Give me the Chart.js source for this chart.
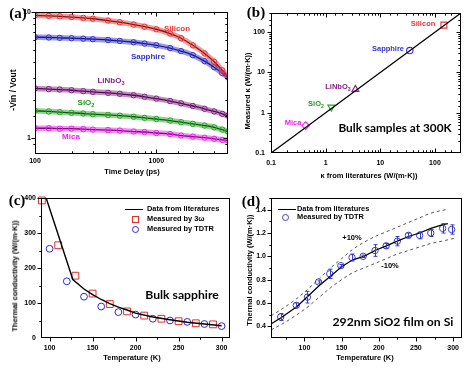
<!DOCTYPE html>
<html><head><meta charset="utf-8">
<script src="https://cdn.jsdelivr.net/npm/chart.js"></script>
<style>
html,body{margin:0;padding:0;background:#fff;}
#wrap{position:relative;width:472px;height:371px;overflow:hidden;background:#fff;font-family:"Liberation Sans",Arial,sans-serif;color:#000;}
canvas{position:absolute;}
.t{position:absolute;transform:translate(-50%,-50%);white-space:nowrap;font-weight:bold;font-size:7.5px;line-height:1;}
.r{transform:translate(-50%,-50%) rotate(-90deg);}
.pl{font-family:"Liberation Serif",serif;font-size:15px;font-weight:bold;}
.big{font-family:Lato,sans-serif;font-weight:700;font-size:11.8px;}
sub{font-size:70%;vertical-align:-2px;line-height:0;}
.leg{position:absolute;white-space:nowrap;font-weight:bold;font-size:7.4px;transform:translateY(-50%);line-height:1;}
.sw{position:absolute;box-sizing:border-box;}
</style></head><body><div id="wrap">
<canvas id="ca" width="236" height="185" style="left:0;top:0"></canvas>
<canvas id="cb" width="236" height="185" style="left:236px;top:0"></canvas>
<canvas id="cc" width="236" height="186" style="left:0;top:185px"></canvas>
<canvas id="cd" width="236" height="186" style="left:236px;top:185px"></canvas>

<div class="t pl" style="left:18px;top:13px">(a)</div>
<div class="t pl" style="left:256px;top:12px">(b)</div>
<div class="t pl" style="left:17px;top:200px">(c)</div>
<div class="t pl" style="left:251px;top:201px">(d)</div>

<!-- panel a -->
<div class="t" style="left:132px;top:172px">Time Delay (ps)</div>
<div class="t r" style="left:13px;top:90px;font-size:8.5px">-Vin / Vout</div>
<div class="t" style="left:177px;top:29px;color:#ee3333;font-size:8px">Silicon</div>
<div class="t" style="left:148px;top:57px;color:#3333cc;font-size:8px">Sapphire</div>
<div class="t" style="left:111px;top:81px;color:#882288;font-size:8px">LiNbO<sub>3</sub></div>
<div class="t" style="left:86px;top:103px;color:#229922;font-size:8px">SiO<sub>2</sub></div>
<div class="t" style="left:71px;top:137px;color:#ee22ee;font-size:8px">Mica</div>

<!-- panel b -->
<div class="t" style="left:369px;top:176px">κ from literatures (W/(m·K))</div>
<div class="t r" style="left:248px;top:91px">Measured κ (W/(m·K))</div>
<div class="t" style="left:423px;top:24px;color:#ee3333">Silicon</div>
<div class="t" style="left:388px;top:49px;color:#3333cc">Sapphire</div>
<div class="t" style="left:338px;top:87px;color:#882288">LiNbO<sub>3</sub></div>
<div class="t" style="left:316px;top:104px;color:#229922">SiO<sub>2</sub></div>
<div class="t" style="left:293px;top:123px;color:#ee22ee">Mica</div>
<div class="t big" style="left:395px;top:128px">Bulk samples at 300K</div>

<!-- panel c -->
<div class="t" style="left:132px;top:358px">Temperature (K)</div>
<div class="t r" style="left:15px;top:276px">Thermal conductivity (W/(m·K))</div>
<div class="sw" style="left:125px;top:208.5px;width:18px;height:1.5px;background:#000"></div>
<div class="leg" style="left:147px;top:209px">Data from literatures</div>
<div class="sw" style="left:131.5px;top:215.5px;width:7px;height:7px;border:1px solid #e0302a"></div>
<div class="leg" style="left:147px;top:219px">Measured by 3ω</div>
<div class="sw" style="left:131.5px;top:225.5px;width:7px;height:7px;border:1px solid #2a2ad0;border-radius:50%"></div>
<div class="leg" style="left:147px;top:229px">Measured by TDTR</div>
<div class="t big" style="left:182px;top:295px;font-size:12.2px">Bulk sapphire</div>

<!-- panel d -->
<div class="t" style="left:365px;top:358px">Temperature (K)</div>
<div class="t r" style="left:250px;top:270px">Thermal conductivity (W/(m·K))</div>
<div class="sw" style="left:278px;top:208.5px;width:18px;height:1.2px;background:#000"></div>
<div class="leg" style="left:297px;top:209px">Data from literatures</div>
<div class="sw" style="left:281.5px;top:213.5px;width:7px;height:7px;border:1px solid #3b3bd0;border-radius:50%"></div>
<div class="leg" style="left:297px;top:217px">Measured by TDTR</div>
<div class="t" style="left:352px;top:238px">+10%</div>
<div class="t" style="left:390px;top:266px">-10%</div>
<div class="t big" style="left:393px;top:322px;font-size:12.2px">292nm SiO2 film on Si</div>
</div>
<script>
// ---------- Panel (a): -Vin/Vout vs time delay ----------
const aTimes = [100,130,160,200,250,300,400,500,650,800,1000,1300,1600,2000,2500,3000,3500,3900];
const aSilicon  = [9.40,9.32,9.24,9.12,8.98,8.84,8.55,8.30,7.95,7.65,7.30,6.75,6.20,5.45,4.70,4.04,3.45,3.08];
const aSapphire = [6.32,6.28,6.24,6.20,6.15,6.09,6.00,5.90,5.76,5.62,5.45,5.18,4.90,4.55,4.08,3.65,3.28,3.03];
const aLiNbO3   = [2.48,2.45,2.43,2.40,2.36,2.33,2.29,2.25,2.19,2.13,2.06,1.97,1.89,1.80,1.71,1.63,1.56,1.51];
const aSiO2     = [1.65,1.63,1.61,1.59,1.57,1.55,1.53,1.51,1.48,1.45,1.42,1.38,1.34,1.30,1.26,1.22,1.17,1.13];
const aMica     = [1.20,1.20,1.19,1.19,1.18,1.17,1.16,1.15,1.13,1.12,1.10,1.08,1.05,1.03,1.01,0.99,0.97,0.96];
const aXTicks = [100, 1000];
const aYTicks = [1, 10];

// ---------- Panel (b): measured vs literature ----------
const bNames = ['Silicon','Sapphire','LiNbO3','SiO2','Mica'];
const bLiterature = [146, 34.7, 3.5, 1.27, 0.43];
const bMeasured   = [150, 35.0, 3.8, 1.38, 0.48];
const bDiag = [0.1, 300];
const bTicks = [0.1, 1, 10, 100];

// ---------- Panel (c): bulk sapphire ----------
const cLitT = [96,110,127,140,150,160,170,180,190,200,220,240,260,280,300];
const cLitK = [400,295,167,140,124,110,98,88,80,71,60,52,45,40,35];
const c3wT = [91,110,130,150,170,190,210,230,250,270,290];
const c3wK = [393,265,178,127,97,76,64,55,48,42,39];
const cTdtrT = [100,120,140,160,180,200,220,240,260,280,300];
const cTdtrK = [255,162,118,90,74,67,55,50,46,40,34];
const cXTicks = [100,150,200,250,300];
const cYTicks = [0,100,200,300,400];

// ---------- Panel (d): SiO2 film ----------
const dLitT = [55,70,90,105,120,135,150,165,180,195,210,225,240,255,270,285,293];
const dLitK = [0.42,0.48,0.57,0.66,0.75,0.83,0.91,0.97,1.00,1.05,1.09,1.13,1.17,1.20,1.24,1.27,1.28];
const dUpT = [55,70,90,105,120,135,150,165,180,195,210,225,240,255,270,290];
const dUpK = [0.49,0.55,0.64,0.72,0.81,0.90,0.98,1.06,1.12,1.17,1.21,1.25,1.29,1.33,1.37,1.40];
const dLoT = [55,70,90,105,120,135,150,165,180,195,210,225,240,255,270,285,305];
const dLoK = [0.37,0.42,0.50,0.57,0.65,0.73,0.80,0.86,0.90,0.94,0.98,1.02,1.05,1.08,1.11,1.13,1.16];
const dT   = [68,89,104,119,134,149,164,179,195,210,225,240,255,270,286,298];
const dK   = [0.48,0.58,0.65,0.78,0.85,0.92,0.99,1.00,1.05,1.09,1.13,1.18,1.18,1.20,1.24,1.23];
const dErr = [0.03,0.02,0.05,0.01,0.04,0.01,0.03,0.01,0.05,0.02,0.04,0.02,0.03,0.03,0.04,0.04];
const dXTicks = [100,150,200,250,300];
const dYTicks = [0.4,0.6,0.8,1.0,1.2,1.4];

// ---------- helpers ----------
const pts = (xs, ys) => xs.map((x, i) => ({x, y: ys[i]}));
const labeler = (arr, fmt) => (v) => {
  const m = arr.find(a => Math.abs(a - v) <= Math.abs(a) * 1e-6 + 1e-9);
  return m === undefined ? '' : fmt(m);
};
const tickFont = {family: 'Liberation Sans', size: 7, weight: 'bold'};
function axis(type, min, max, horiz, size, pad, labelFn, step) {
  const ticks = {autoSkip: false, maxRotation: 0, minRotation: 0, padding: pad, color: '#000',
    font: tickFont, callback: labelFn, includeBounds: false};
  if (step) ticks.stepSize = step;
  return {type, min, max, grid: {display: false, drawTicks: false}, border: {display: false}, ticks,
    afterFit(s) {
      if (horiz) { s.height = size; s.paddingLeft = 0; s.paddingRight = 0; }
      else { s.width = size; s.paddingTop = 0; s.paddingBottom = 0; }
    }};
}
const framePlugin = {
  id: 'frame',
  afterDatasetsDraw(chart, args, o) {
    const {ctx, chartArea: a, scales} = chart;
    const L = Math.round(a.left) + 0.5, R = Math.round(a.right) - 0.5;
    const T = Math.round(a.top) + 0.5, B = Math.round(a.bottom) - 0.5;
    ctx.save();
    ctx.strokeStyle = '#000'; ctx.lineWidth = 1;
    ctx.strokeRect(L, T, R - L, B - T);
    const maj = 4, mnr = 2.2;
    const sides = o.sides || {};
    ctx.beginPath();
    for (const side of Object.keys(sides)) {
      const dir = sides[side];
      const horiz = side === 'bottom' || side === 'top';
      const sc = horiz ? scales.x : scales.y;
      const s = dir === 'in' ? 1 : -1;
      for (const t of sc.ticks) {
        const len = (t.label !== '' && t.label != null) ? maj : mnr;
        const p = Math.round(sc.getPixelForValue(t.value)) + 0.5;
        if (horiz && (p < L - 0.1 || p > R + 0.1)) continue;
        if (!horiz && (p < T - 0.1 || p > B + 0.1)) continue;
        if (side === 'bottom') { ctx.moveTo(p, B); ctx.lineTo(p, B - s * len); }
        if (side === 'top') { ctx.moveTo(p, T); ctx.lineTo(p, T + s * len); }
        if (side === 'left') { ctx.moveTo(L, p); ctx.lineTo(L + s * len, p); }
        if (side === 'right') { ctx.moveTo(R, p); ctx.lineTo(R - s * len, p); }
      }
    }
    ctx.stroke();
    ctx.restore();
  }
};
const errPlugin = {
  id: 'errbars',
  afterDatasetsDraw(chart, args, o) {
    if (!o.err) return;
    const {ctx, scales: {x, y}} = chart;
    ctx.save(); ctx.strokeStyle = o.color; ctx.lineWidth = 1;
    ctx.beginPath();
    o.xs.forEach((xv, i) => {
      const px = Math.round(x.getPixelForValue(xv)) + 0.5;
      const y1 = y.getPixelForValue(o.ys[i] - o.err[i]);
      const y2 = y.getPixelForValue(o.ys[i] + o.err[i]);
      ctx.moveTo(px, y1); ctx.lineTo(px, y2);
      ctx.moveTo(px - 2, y1); ctx.lineTo(px + 2, y1);
      ctx.moveTo(px - 2, y2); ctx.lineTo(px + 2, y2);
    });
    ctx.stroke(); ctx.restore();
  }
};
Chart.register(framePlugin, errPlugin);
const base = (pad, frameSides, extraPlugins) => ({
  responsive: false, animation: false, events: [], devicePixelRatio: 1,
  layout: {padding: pad},
  plugins: Object.assign({legend: {display: false}, tooltip: {enabled: false},
    frame: {sides: frameSides}, errbars: {}}, extraPlugins || {})
});

// ---------- Chart (a) ----------
const aSeries = [
  [aSilicon, '#ee3333', 'rgba(238,51,51,0.5)'],
  [aSapphire, '#3333dd', 'rgba(51,51,221,0.5)'],
  [aLiNbO3, '#882288', 'rgba(136,34,136,0.5)'],
  [aSiO2, '#22aa22', 'rgba(34,170,34,0.5)'],
  [aMica, '#ee22ee', 'rgba(238,34,238,0.5)']
];
const aDatasets = [];
aSeries.forEach(([vals, c, ca]) => {
  aDatasets.push({data: pts(aTimes, vals), showLine: true, borderColor: ca, borderWidth: 5.5,
    pointRadius: 2.7, pointBorderColor: c, pointBackgroundColor: 'rgba(255,255,255,0)', pointBorderWidth: 1,
    cubicInterpolationMode: 'monotone'});
});
aSeries.forEach(([vals]) => {
  aDatasets.push({data: pts(aTimes, vals), showLine: true, borderColor: '#000', borderWidth: 1.3,
    pointRadius: 0, cubicInterpolationMode: 'monotone'});
});
new Chart(document.getElementById('ca'), {
  type: 'scatter',
  data: {datasets: aDatasets},
  options: Object.assign(base({left: 0, top: 12, right: 8, bottom: 0},
      {bottom: 'in', top: 'in', left: 'out', right: 'in'}), {
    scales: {
      x: axis('logarithmic', 100, 3900, true, 31, 3, labeler(aXTicks, String)),
      y: axis('logarithmic', 0.75, 10, false, 35, 4, labeler(aYTicks, String))
    }})
});

// ---------- Chart (b) ----------
const bColors = ['#ee3333', '#3333dd', '#882288', '#22aa22', '#ee22ee'];
const bStyles = ['rect', 'circle', 'triangle', 'triangle', 'rectRot'];
const bRot = [0, 0, 0, 180, 0];
const bRad = [4.2, 3.2, 4, 4, 3.8];
new Chart(document.getElementById('cb'), {
  type: 'scatter',
  data: {datasets: [
    {data: pts(bDiag, bDiag), showLine: true, borderColor: '#000', borderWidth: 1.3, pointRadius: 0},
    {data: pts(bLiterature, bMeasured), pointStyle: bStyles, pointRotation: bRot, pointRadius: bRad,
      pointBorderColor: bColors, pointBackgroundColor: 'rgba(255,255,255,0)', pointBorderWidth: 1.1, clip: false}
  ]},
  options: Object.assign(base({left: 0, top: 13, right: 11, bottom: 0},
      {bottom: 'in', top: 'in', left: 'out', right: 'in'}), {
    scales: {
      x: axis('logarithmic', 0.1, 300, true, 32, 6, labeler(bTicks, String)),
      y: axis('logarithmic', 0.1, 300, false, 35, 6, labeler(bTicks, String))
    }})
});

// ---------- Chart (c) ----------
new Chart(document.getElementById('cc'), {
  type: 'scatter',
  data: {datasets: [
    {data: pts(cLitT, cLitK), showLine: true, borderColor: '#000', borderWidth: 1.4, pointRadius: 0},
    {data: pts(c3wT, c3wK), pointStyle: 'rect', pointRadius: 4.8, pointBorderColor: '#e0302a',
      pointBackgroundColor: 'rgba(255,255,255,0)', pointBorderWidth: 1, clip: false},
    {data: pts(cTdtrT, cTdtrK), pointStyle: 'circle', pointRadius: 3.4, pointBorderColor: '#2a2ad0',
      pointBackgroundColor: 'rgba(255,255,255,0)', pointBorderWidth: 1, clip: false}
  ]},
  options: Object.assign(base({left: 0, top: 13, right: 5, bottom: 0},
      {bottom: 'out', left: 'out'}), {
    scales: {
      x: axis('linear', 90, 310, true, 33, 6, labeler(cXTicks, String), 25),
      y: axis('linear', 0, 400, false, 41, 5, labeler(cYTicks, String), 50)
    }})
});

// ---------- Chart (d) ----------
new Chart(document.getElementById('cd'), {
  type: 'scatter',
  data: {datasets: [
    {data: pts(dUpT, dUpK), showLine: true, borderColor: '#555', borderWidth: 1, borderDash: [3, 3],
      pointRadius: 0, cubicInterpolationMode: 'monotone'},
    {data: pts(dLoT, dLoK), showLine: true, borderColor: '#555', borderWidth: 1, borderDash: [3, 3],
      pointRadius: 0, cubicInterpolationMode: 'monotone'},
    {data: pts(dLitT, dLitK), showLine: true, borderColor: '#000', borderWidth: 1.2, pointRadius: 0},
    {data: pts(dT, dK), pointStyle: 'circle', pointRadius: 3.2, pointBorderColor: '#3b3bd0',
      pointBackgroundColor: 'rgba(255,255,255,0)', pointBorderWidth: 1, clip: false}
  ]},
  options: Object.assign(base({left: 0, top: 13, right: 10, bottom: 0},
      {bottom: 'out', left: 'out'}, {errbars: {xs: dT, ys: dK, err: dErr, color: '#3b3bd0'}}), {
    scales: {
      x: axis('linear', 55, 312, true, 33, 6, labeler(dXTicks, String), 25),
      y: axis('linear', 0.3, 1.5, false, 35, 5, labeler(dYTicks, v => v.toFixed(1)), 0.1)
    }})
});
</script>
</body></html>
